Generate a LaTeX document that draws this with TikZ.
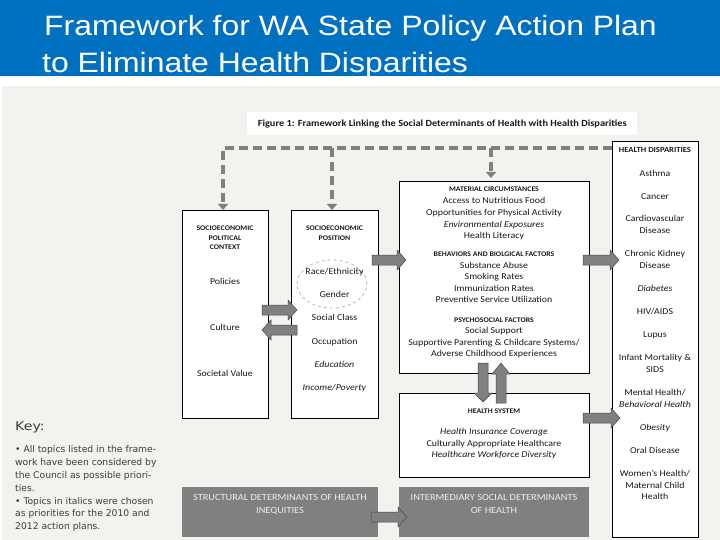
\documentclass[tikz,border=0pt]{standalone}
\usepackage{fontspec}
\setmainfont{Carlito}[FakeStretch=1.1]
\newfontfamily\titlefont{Liberation Sans}[FakeStretch=1.14]
\newfontfamily\keyfont{DejaVu Sans}
\usetikzlibrary{arrows.meta,shapes.geometric}
\definecolor{titleblue}{RGB}{0,112,192}
\definecolor{bgbeige}{RGB}{243,242,238}
\definecolor{arrgray}{RGB}{128,128,128}
\definecolor{arredge}{RGB}{70,70,70}
\definecolor{boxgray}{RGB}{128,128,128}
\definecolor{keygray}{RGB}{60,60,60}
\definecolor{txtdark}{RGB}{25,25,25}
\newcommand\blkh[4]{% tail x, tip x, y, signed head length
  \filldraw[barrow] ({#1},{#3-5}) -- ({#2-(#4)},{#3-5}) -- ({#2-(#4)},{#3-10}) -- ({#2},{#3})
    -- ({#2-(#4)},{#3+10}) -- ({#2-(#4)},{#3+5}) -- ({#1},{#3+5}) -- cycle;}
\newcommand\blkv[4]{% x, tail y, tip y, signed head length
  \filldraw[barrow] ({#1-5},{#2}) -- ({#1-5},{#3-(#4)}) -- ({#1-9},{#3-(#4)}) -- ({#1},{#3})
    -- ({#1+9},{#3-(#4)}) -- ({#1+5},{#3-(#4)}) -- ({#1+5},{#2}) -- cycle;}
\begin{document}
\begin{tikzpicture}[x=1pt,y=-1pt,
  bx/.style={draw=black,fill=white,line width=0.8pt,inner sep=0pt,outer sep=0pt,anchor=north west},
  gbx/.style={fill=boxgray,inner sep=0pt,outer sep=0pt,anchor=north west},
  txh/.style={font=\fontsize{7.1}{8}\selectfont\bfseries,text=txtdark,inner sep=0pt,text height=4.9pt,text depth=0pt},
  txhh/.style={txh,font=\fontsize{7.8}{8}\selectfont\bfseries,text height=5.4pt},
  txn/.style={font=\fontsize{9}{10}\selectfont,text=txtdark,inner sep=0pt,text height=6.2pt,text depth=0pt},
  txg/.style={font=\fontsize{9.4}{10}\selectfont,text=white!93!black,inner sep=0pt,text height=6.5pt,text depth=0pt},
  keyline/.style={font=\keyfont\fontsize{9.2}{10}\selectfont,text=keygray,inner sep=0pt,anchor=west,text height=6.6pt,text depth=0pt},
  barrow/.style={fill=arrgray,draw=arredge,line width=0.5pt},
  fbline/.style={draw=arrgray,line width=3.2pt,dash pattern=on 9pt off 5pt,-{Triangle[length=6pt,width=10pt]}}
]
\useasboundingbox (0,0) rectangle (720,540);
\fill[white] (0,0) rectangle (720,540);
\fill[titleblue] (0,0) rectangle (720,76);
\fill[bgbeige] (2,86) rectangle (720,540);

% title
\node[anchor=base west,inner sep=0pt,text=white,font=\titlefont\fontsize{28}{30}\selectfont] (title1) at (44,36) {Framework for WA State Policy Action Plan};
\node[anchor=base west,inner sep=0pt,text=white,font=\titlefont\fontsize{28}{30}\selectfont] (title2) at (42,73) {to Eliminate Health Disparities};

% caption
\node[fill=white,inner sep=0pt,minimum width=390pt,minimum height=23pt,anchor=north west] (capbox) at (247,112) {};
\node[font=\fontsize{9.4}{10}\selectfont\bfseries,text=txtdark,inner sep=0pt] (cap) at (capbox.center) {Figure 1: Framework Linking the Social Determinants of Health with Health Disparities};

% boxes
\node[bx,minimum width=86pt,minimum height=208pt] (sepc) at (182,210) {};
\node[bx,minimum width=87pt,minimum height=208pt] (sep) at (291,210) {};
\node[bx,minimum width=190pt,minimum height=192pt] (mat) at (399,181) {};
\node[bx,minimum width=190pt,minimum height=84pt] (hs) at (399,393) {};
\node[bx,minimum width=86pt,minimum height=396pt] (hd) at (612,141) {};
\node[gbx,minimum width=196pt,minimum height=50pt] (sdh) at (182,487) {};
\node[gbx,minimum width=190pt,minimum height=50pt] (isd) at (399,487) {};

% dashed feedback line
\coordinate (fb) at (612,148);
\coordinate (c1) at (223,148);
\coordinate (c2) at (332,148);
\coordinate (c3) at (491,148);
\draw[fbline] (fb) -- (c1) -- (c1 |- sepc.north);
\draw[fbline] (c2) -- (c2 |- sep.north);
\draw[fbline,shorten >=3pt] (c3) -- (c3 |- mat.north);

% ellipse
\node[ellipse,draw=black!28,dashed,line width=0.8pt,minimum width=70pt,minimum height=48pt,inner sep=0pt] (eth) at (332,284) {};

% texts: socioeconomic political context
\foreach \y/\s/\t [count=\i] in {228/txh/SOCIOECONOMIC, 238/txh/POLITICAL, 247/txh/CONTEXT,
  281/txn/Policies, 327/txn/Culture, 373/txn/Societal Value}
  \node[\s] (sepc-\i) at (225,\y) {\t};
% socioeconomic position
\foreach \y/\s/\t [count=\i] in {228/txh/SOCIOECONOMIC, 238/txh/POSITION,
  271/txn/{Race{/}Ethnicity}, 294/txn/Gender, 317/txn/Social Class, 341/txn/Occupation,
  364/txn/{\textit{Education}}, 387/txn/{\textit{Income{/}Poverty}}}
  \node[\s] (sep-\i) at (334.5,\y) {\t};
% material circumstances etc.
\foreach \y/\s/\t [count=\i] in {189/txh/MATERIAL CIRCUMSTANCES,
  200/txn/Access to Nutritious Food, 212/txn/Opportunities for Physical Activity,
  224/txn/{\textit{Environmental Exposures}}, 235/txn/Health Literacy,
  254/txh/BEHAVIORS AND BIOLGICAL FACTORS,
  265/txn/Substance Abuse, 276/txn/Smoking Rates, 288/txn/Immunization Rates,
  299/txn/Preventive Service Utilization,
  320/txh/PSYCHOSOCIAL FACTORS,
  330/txn/Social Support, 342/txn/{Supportive Parenting \& Childcare Systems{/}},
  353/txn/Adverse Childhood Experiences}
  \node[\s] (mat-\i) at (494,\y) {\t};
% health system
\foreach \y/\s/\t [count=\i] in {411/txh/HEALTH SYSTEM,
  431/txn/{\textit{Health Insurance Coverage}}, 443/txn/Culturally Appropriate Healthcare,
  454/txn/{\textit{Healthcare Workforce Diversity}}}
  \node[\s] (hs-\i) at (494,\y) {\t};
% health disparities
\foreach \y/\s/\t [count=\i] in {150/txhh/HEALTH DISPARITIES,
  173/txn/Asthma, 196/txn/Cancer, 218/txn/Cardiovascular, 230/txn/Disease,
  253/txn/Chronic Kidney, 265/txn/Disease, 288/txn/{\textit{Diabetes}},
  311/txn/{HIV{/}AIDS}, 334/txn/Lupus, 357/txn/Infant Mortality \&, 369/txn/SIDS,
  392/txn/{Mental Health{/}}, 404/txn/{\textit{Behavioral Health}}, 427/txn/{\textit{Obesity}},
  450/txn/Oral Disease, 473/txn/{Women’s Health{/}}, 485/txn/Maternal Child, 496/txn/Health}
  \node[\s] (hd-\i) at (655,\y) {\t};
% gray boxes text
\node[txg] (sdh-1) at (280,497) {STRUCTURAL DETERMINANTS OF HEALTH};
\node[txg] (sdh-2) at (280,510) {INEQUITIES};
\node[txg] (isd-1) at (494,497) {INTERMEDIARY SOCIAL DETERMINANTS};
\node[txg] (isd-2) at (494,510) {OF HEALTH};

% key
\node[keyline,font=\keyfont\fontsize{12}{14}\selectfont,text height=8.6pt] (key) at (15,426) {\scalebox{1.18}[1]{Key:}};
\foreach \y/\t [count=\i] in {449/• All topics listed in the frame-, 462/work have been considered by,
  475/the Council as possible priori-, 488/ties., 501/• Topics in italics were chosen,
  513/as priorities for the 2010 and, 526/2012 action plans.}
  \node[keyline] (key-\i) at (15,\y) {\t};

% block arrows
\blkh{262}{297}{310}{9}
\blkh{297}{262}{330}{-9}
\blkh{372}{406}{260}{9}
\blkh{583}{619}{260}{9}
\blkh{583}{620}{418}{9}
\blkh{371}{407}{517}{9}
\blkv{483}{363}{402}{9}
\blkv{501}{403}{363}{-11}
\end{tikzpicture}
\end{document}
